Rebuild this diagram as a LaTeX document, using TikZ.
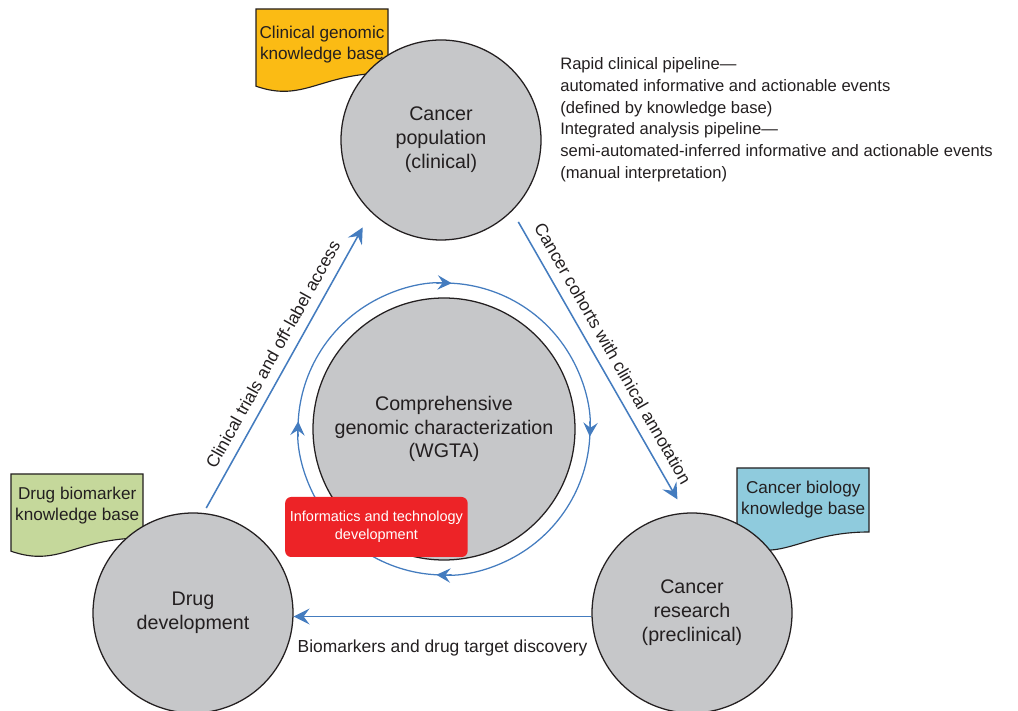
\documentclass[tikz,border=0pt]{standalone}
\usepackage{fontspec}
\setmainfont{Liberation Sans}
\usetikzlibrary{arrows.meta}

\definecolor{txtgray}{RGB}{35,31,32}
\definecolor{discgray}{RGB}{198,199,201}
\definecolor{flowblue}{RGB}{68,124,191}
\definecolor{kbyellow}{RGB}{251,187,20}
\definecolor{kbgreen}{RGB}{197,216,155}
\definecolor{kbblue}{RGB}{143,203,221}
\definecolor{techred}{RGB}{237,35,39}

\begin{document}
\begin{tikzpicture}[
		every node/.style={text=txtgray},
		disc/.style={circle, draw=txtgray, line width=0.9pt, fill=discgray, align=center, font=\fontsize{14}{17}\selectfont},
		kbase/.style={draw=txtgray, line width=0.8pt},
		kbtext/.style={align=center, font=\fontsize{12.2}{15}\selectfont},
		lbl/.style={font=\fontsize{12.4}{14}\selectfont},
		flow/.style={flowblue, line width=1.1pt, -{Stealth[length=4mm, width=4mm, inset=1.5mm]}},
		ringflow/.style={flowblue, line width=0.9pt, -{Stealth[length=3.5mm, width=3.6mm, inset=1.3mm]}},
		techbox/.style={rectangle, rounded corners=1.5mm, fill=techred, text=white, minimum width=4.525cm, minimum height=1.5cm, align=center, font=\fontsize{10.3}{12.8}\selectfont}
	]
		\useasboundingbox (0,0) rectangle (25.45,17.775);
		% knowledge base sheets, behind the discs
		\draw[kbase, fill=kbyellow] (6.4,17.55) -- (9.7,17.55) -- (9.7,15.95) .. controls (8.0,15.95) and (7.6,15.2) .. (6.4,15.62) -- cycle;
		\draw[kbase, fill=kbgreen] (0.275,5.925) -- (3.575,5.925) -- (3.575,4.325) .. controls (1.875,4.325) and (1.475,3.575) .. (0.275,3.995) -- cycle;
		\draw[kbase, fill=kbblue] (18.425,6.075) -- (21.725,6.075) -- (21.725,4.475) .. controls (20.025,4.475) and (19.625,3.725) .. (18.425,4.145) -- cycle;
		\node[kbtext] (kbclin) at (8.05,16.67) {Clinical genomic\\knowledge base};
		\node[kbtext] (kbdrug) at (1.93,5.125) {Drug biomarker\\knowledge base};
		\node[kbtext] (kbbio) at (20.08,5.29) {Cancer biology\\knowledge base};
		% the three stages and the core
		\node[disc, minimum size=5cm] (pop) at (11.025,14.275) {Cancer\\population\\(clinical)};
		\node[disc, minimum size=5cm] (drug) at (4.825,2.45) {Drug\\development};
		\node[disc, minimum size=5cm] (research) at (17.3,2.45) {Cancer\\research\\(preclinical)};
		\node[disc, minimum size=6.55cm] (wgta) at (11.1,7.05) {Comprehensive\\genomic characterization\\(WGTA)};
		% clockwise ring round the core
		\draw[ringflow] ([shift={(183:3.65)}]wgta.center) arc[start angle=183, end angle=87, radius=3.65cm];
		\draw[ringflow] ([shift={(93:3.65)}]wgta.center) arc[start angle=93, end angle=-3, radius=3.65cm];
		\draw[ringflow] ([shift={(3:3.65)}]wgta.center) arc[start angle=3, end angle=-93, radius=3.65cm];
		\draw[ringflow] ([shift={(-87:3.65)}]wgta.center) arc[start angle=-87, end angle=-183, radius=3.65cm];
		\node[techbox] (tech) at (9.41,4.6) {Informatics and technology\\development};
		% flows between the stages
		\draw[flow, shorten <=1.4mm, shorten >=4.3mm] (drug.84.6) -- node[midway, above=1.2mm, sloped, lbl] {Clinical trials and off-label access} (pop.226.4);
		\draw[flow, shorten <=3.1mm, shorten >=3.8mm] (pop.-45.4) -- node[midway, above=1.2mm, sloped, lbl] {Cancer cohorts with clinical annotation} (research.94.5);
		\draw[flow] (research.182) -- node[below=4.4mm, lbl] {Biomarkers and drug target discovery} (drug.-2);
		\node[anchor=west, align=left, inner sep=0pt, font=\fontsize{11.8}{15.5}\selectfont] (pipes) at (14.0,14.78) {Rapid clinical pipeline—\\automated informative and actionable events\\(defined by knowledge base)\\Integrated analysis pipeline—\\semi-automated-inferred informative and actionable events\\(manual interpretation)};
\end{tikzpicture}
\end{document}
